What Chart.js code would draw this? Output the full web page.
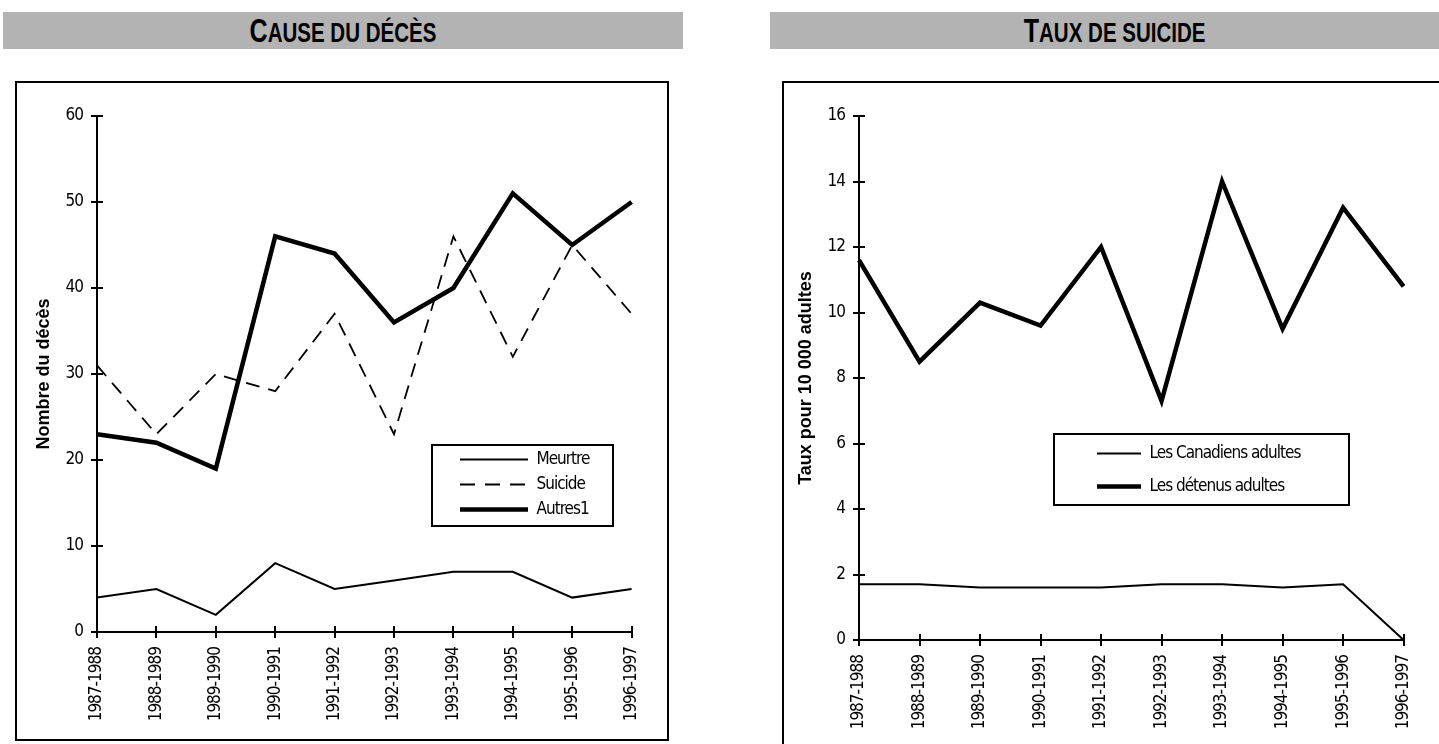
<!DOCTYPE html>
<html lang="fr">
<head>
<meta charset="utf-8">
<title>Cause du décès et taux de suicide</title>
<script src="https://cdn.jsdelivr.net/npm/chart.js@4.4.1/dist/chart.umd.min.js"></script>
<style>
  html, body { margin: 0; padding: 0; background: #fff; overflow: hidden; }
  body { width: 1439px; height: 744px; position: relative; }
  .bar {
    position: absolute; top: 12px; height: 37px; background: #b3b3b3;
    display: flex; align-items: center; justify-content: center;
  }
  .bar .t {
    display: inline-block; transform: scaleX(0.76);
    font-family: 'Liberation Sans', Arial, sans-serif;
    font-weight: bold; font-size: 27px; color: #000; white-space: nowrap;
  }
  .bar .big { font-size: 33px; }
  .frame { position: absolute; border: 2px solid #000; box-sizing: border-box; }
  canvas { position: absolute; }
</style>
</head>
<body>

<div class="bar" style="left:3px; width:680px;"><span class="t"><span class="big">C</span>AUSE DU DÉCÈS</span></div>
<div class="bar" style="left:770px; width:690px;"><span class="t"><span class="big">T</span>AUX DE SUICIDE</span></div>

<div class="frame" style="left:15px; top:81px; width:654px; height:660px;"></div>
<div class="frame" style="left:782px; top:81px; width:670px; height:690px;"></div>

<canvas id="deces" width="650" height="656" style="left:17px; top:83px;"></canvas>
<canvas id="suicide" width="655" height="661" style="left:784px; top:83px;"></canvas>

<script>
// exercices
const years = ['1987-1988', '1988-1989', '1989-1990', '1990-1991', '1991-1992',
               '1992-1993', '1993-1994', '1994-1995', '1995-1996', '1996-1997'];

// nombre de décès par cause
const meurtre = [4, 5, 2, 8, 5, 6, 7, 7, 4, 5];
const suicide = [31, 23, 30, 28, 37, 23, 46, 32, 45, 37];
const autres = [23, 22, 19, 46, 44, 36, 40, 51, 45, 50];

// taux pour 10 000 adultes
const canadiens = [1.7, 1.7, 1.6, 1.6, 1.6, 1.7, 1.7, 1.6, 1.7, 0];
const detenus = [11.6, 8.5, 10.3, 9.6, 12.0, 7.3, 14.0, 9.5, 13.2, 10.8];

const narrow = "'DejaVu Sans Condensed', 'Liberation Sans Narrow', 'Arial Narrow', sans-serif";
const bold = "'Liberation Sans', Arial, sans-serif";

// tick marks that cross the axis line, Excel style
const crossTicks = {
  id: 'crossTicks',
  afterDatasetsDraw(chart) {
    const { ctx, scales: { x, y } } = chart;
    const len = 6;
    ctx.save();
    ctx.strokeStyle = '#000';
    ctx.lineWidth = 2;
    ctx.beginPath();
    y.ticks.forEach((t, i) => {
      const py = Math.round(y.getPixelForTick(i));
      ctx.moveTo(y.right - len, py);
      ctx.lineTo(y.right + len, py);
    });
    x.ticks.forEach((t, i) => {
      const px = Math.round(x.getPixelForTick(i));
      ctx.moveTo(px, x.top - len);
      ctx.lineTo(px, x.top + len);
    });
    ctx.stroke();
    ctx.restore();
  }
};

// tighter letter spacing for tick labels and legend (narrow face)
const tightText = {
  id: 'tightText',
  beforeDraw(chart, args, o) {
    const wrap = (obj, name) => {
      if (!obj || obj['_tight_' + name]) return;
      const orig = obj[name].bind(obj);
      obj[name] = (...a) => {
        const c = chart.ctx;
        c.save();
        c.letterSpacing = o.spacing;
        orig(...a);
        c.restore();
      };
      obj['_tight_' + name] = true;
    };
    wrap(chart.scales.x, 'drawLabels');
    wrap(chart.scales.y, 'drawLabels');
    wrap(chart.legend, 'draw');
  }
};

// puts the legend inside the plot and draws a box round it
const legendBox = {
  id: 'legendBox',
  afterLayout(chart, args, o) {
    const lg = chart.legend;
    lg.left = o.itemX; lg.top = o.itemY;
    lg.width = o.frame.w; lg.height = 200;
    lg.right = lg.left + lg.width; lg.bottom = lg.top + lg.height;
  },
  afterDraw(chart, args, o) {
    const ctx = chart.ctx;
    const f = o.frame;
    ctx.save();
    ctx.strokeStyle = '#000';
    ctx.lineWidth = 2;
    ctx.strokeRect(f.x, f.y, f.w, f.h);
    ctx.restore();
  }
};

function lineChart(id, datasets, opts) {
  return new Chart(document.getElementById(id), {
    type: 'line',
    data: { labels: years, datasets },
    plugins: [crossTicks, legendBox, tightText],
    options: {
      responsive: false,
      animation: false,
      events: [],
      layout: { padding: { left: 0, top: 33, right: opts.padRight, bottom: 0 } },
      elements: {
        point: { radius: 0 },
        line: { tension: 0, borderJoinStyle: 'miter', borderCapStyle: 'butt' }
      },
      scales: {
        x: {
          offset: false,
          grid: { display: false, drawTicks: false, tickLength: 0 },
          border: { display: true, color: '#000', width: 2 },
          ticks: {
            autoSkip: false, maxRotation: 90, minRotation: 90, padding: 15,
            color: '#000', font: { family: narrow, size: 17 }
          },
          afterFit: s => { s.height = opts.xHeight; }
        },
        y: {
          min: 0, max: opts.max,
          grid: { display: false, drawTicks: false, tickLength: 0 },
          border: { display: true, color: '#000', width: 2 },
          ticks: {
            stepSize: opts.step, padding: 14,
            color: '#000', font: { family: narrow, size: 17 }
          },
          title: {
            display: true, text: opts.yTitle, color: '#000',
            font: { family: bold, size: 18, weight: 'bold' },
            padding: { top: opts.titlePad, bottom: 0 }
          },
          afterFit: s => { s.width = opts.yWidth; }
        }
      },
      plugins: {
        tooltip: { enabled: false },
        tightText: { spacing: '-1px' },
        legend: {
          position: 'chartArea',
          align: 'start',
          labels: {
            usePointStyle: true,
            pointStyle: 'line',
            pointStyleWidth: opts.sample,
            boxHeight: 17,
            padding: opts.rowPad,
            color: '#000',
            font: { family: narrow, size: 17 },
            generateLabels: chart => Chart.defaults.plugins.legend.labels.generateLabels(chart)
              .map(item => {
                const ds = chart.data.datasets[item.datasetIndex];
                return { ...item, lineWidth: ds.borderWidth, lineDash: ds.borderDash ? [15, 10] : [] };
              })
          }
        },
        legendBox: opts.legend
      }
    }
  });
}

lineChart('deces', [
  { label: 'Meurtre', data: meurtre, borderColor: '#000', backgroundColor: '#000', borderWidth: 2 },
  { label: 'Suicide', data: suicide, borderColor: '#000', backgroundColor: '#000', borderWidth: 1.8, borderDash: [14, 9] },
  { label: 'Autres1', data: autres, borderColor: '#000', backgroundColor: '#000', borderWidth: 4.5 }
], {
  max: 60, step: 10, yTitle: 'Nombre du décès', titlePad: 16,
  yWidth: 80, xHeight: 107, padRight: 30,
  sample: 68, rowPad: 8,
  legend: { itemX: 435, itemY: 360, frame: { x: 415, y: 362, w: 181, h: 81 } }
});

lineChart('suicide', [
  { label: 'Les Canadiens adultes', data: canadiens, borderColor: '#000', backgroundColor: '#000', borderWidth: 2 },
  { label: 'Les détenus adultes', data: detenus, borderColor: '#000', backgroundColor: '#000', borderWidth: 4.5 }
], {
  max: 16, step: 2, yTitle: 'Taux pour 10 000 adultes', titlePad: 11,
  yWidth: 75, xHeight: 104, padRight: 30,
  sample: 44, rowPad: 16,
  legend: { itemX: 297, itemY: 346, frame: { x: 270, y: 351, w: 295, h: 71 } }
});
</script>
</body>
</html>
